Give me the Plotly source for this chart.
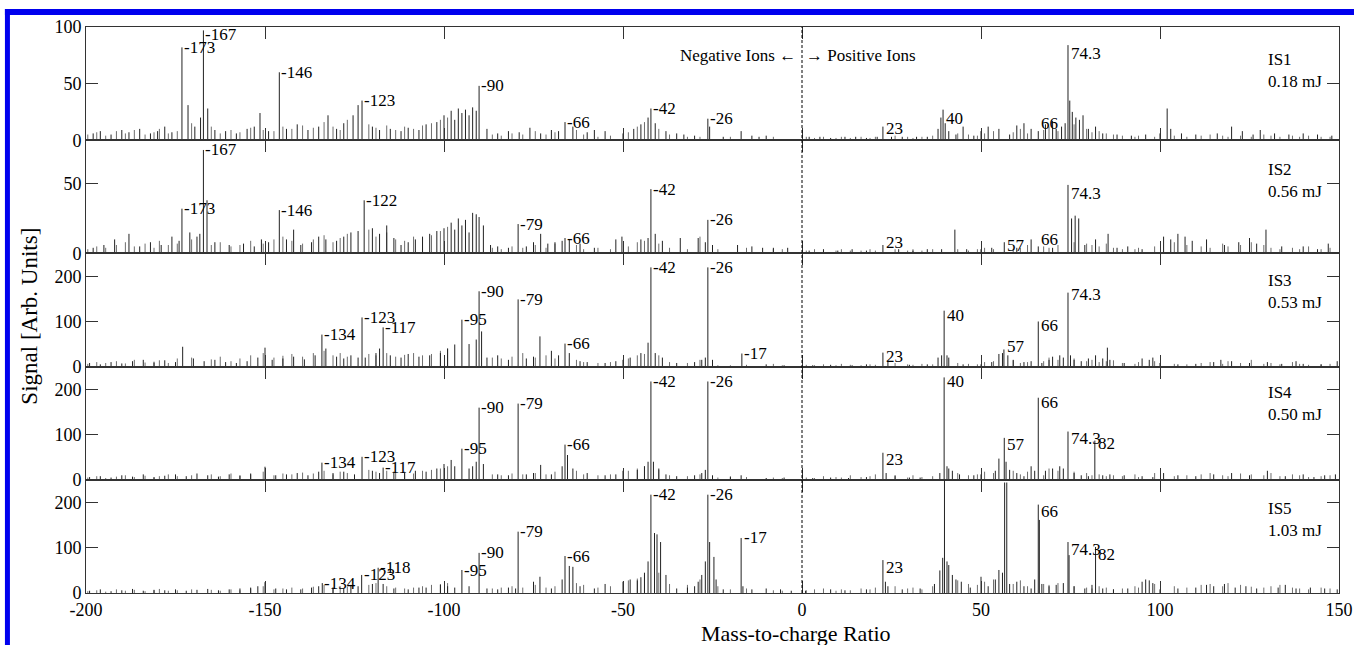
import plotly.graph_objects as go
from plotly.subplots import make_subplots

# ---------------- data (m/z, signal) ----------------
X_RANGE = [-200, 150]
X_TICKS = [-200, -150, -100, -50, 0, 50, 100, 150]
X_TICK_TEXT = ["-200", "-150", "-100", "-50", "0", "50", "100", "150"]

PANEL_NAMES = ["IS1", "IS2", "IS3", "IS4", "IS5"]
PANEL_ENERGY = ["0.18 mJ", "0.56 mJ", "0.53 mJ", "0.50 mJ", "1.03 mJ"]
Y_MAX = [100, 81, 251, 251, 251]
Y_TICKS = [[0, 50, 100], [0, 50], [0, 100, 200], [0, 100, 200], [0, 100, 200]]

IS1_PEAKS = [(-198, 6), (-196, 8), (-193, 5), (-190, 9), (-188, 7), (-185, 10), (-182, 6), (-180, 8),
             (-178, 12), (-176, 7), (-173.2, 82), (-171.5, 31), (-169.6, 12), (-168, 20), (-167.2, 97),
             (-166, 28), (-164, 9), (-161, 8), (-158, 6), (-155, 10), (-153, 12), (-151.4, 24), (-149, 8),
             (-146, 60), (-144, 10), (-141, 14), (-138, 9), (-135, 12), (-132.4, 22), (-130, 10), (-128, 15),
             (-125.4, 22), (-124, 31), (-122.9, 35), (-120, 12), (-118, 9), (-115, 10), (-112, 8), (-110, 11),
             (-107, 9), (-105, 14), (-102, 16), (-100, 22), (-98, 26), (-97, 18), (-96, 28), (-95, 24),
             (-94, 27), (-93, 22), (-92, 29), (-91, 26), (-90.2, 48), (-88, 10), (-85, 6), (-82, 8), (-79, 7),
             (-76, 11), (-73, 6), (-70, 9), (-68, 8), (-66.2, 16), (-64, 12), (-60, 7), (-58, 9), (-55, 8),
             (-50, 6), (-47, 10), (-45, 14), (-43, 20), (-42.2, 28), (-41, 15), (-38, 8), (-35, 6), (-33, 5),
             (-30, 4), (-26.3, 19), (-25.8, 12), (-22, 3), (-17, 8), (-14, 4), (-12, 3), (-10, 4),
             (2, 3), (5, 3), (8, 2), (12, 3), (15, 3), (18, 2), (21, 3), (22.6, 12), (25, 3), (28, 3), (32, 3),
             (35, 3), (38, 10), (38.8, 20), (39.4, 27), (40, 15), (41, 8), (43, 5), (45, 12), (48, 4), (50, 8),
             (52, 12), (55, 10), (58, 5), (60, 13), (62, 15), (64, 10), (66, 8), (68, 14), (70, 17), (71, 10),
             (72.5, 12), (73.5, 15), (74.3, 84), (74.8, 35), (75.5, 25), (76.5, 20), (77.5, 18), (78.5, 22),
             (80, 10), (82, 12), (84, 6), (88, 5), (92, 4), (96, 5), (100, 6), (102, 28), (103, 10), (106, 6),
             (110, 5), (116, 6), (120, 12), (123, 8), (126, 5), (128, 9), (132, 6), (136, 5), (140, 6),
             (144, 5), (148, 4)]

IS2_PEAKS = [(-198, 4), (-195, 6), (-192, 10), (-188, 14), (-185, 5), (-182, 8), (-179, 6), (-176, 12),
             (-174, 9), (-173.2, 32), (-171, 15), (-169, 12), (-168.2, 14), (-167.2, 74), (-166.2, 38),
             (-164, 8), (-160, 6), (-156, 7), (-153, 5), (-151, 10), (-149, 8), (-146, 31), (-144, 10),
             (-142, 17), (-140, 6), (-137, 8), (-135, 12), (-133, 10), (-130, 9), (-128, 12), (-126, 15),
             (-124, 16), (-122.3, 38), (-120, 18), (-118, 14), (-116, 20), (-114, 11), (-112, 6), (-110, 8),
             (-108, 10), (-106, 12), (-104, 14), (-102, 16), (-100, 18), (-98, 22), (-97, 17), (-96, 25),
             (-95, 20), (-94, 24), (-93, 15), (-92, 29), (-91, 28), (-90.2, 26), (-89, 20), (-87, 6), (-85, 5),
             (-82, 4), (-79.3, 21), (-77, 5), (-75, 8), (-73, 14), (-71, 7), (-69, 8), (-67, 9), (-66.2, 11),
             (-65, 10), (-62, 7), (-58, 4), (-52, 10), (-50.3, 12), (-45, 10), (-43, 11), (-42.2, 46),
             (-41, 14), (-39, 9), (-34, 11), (-29, 11), (-27, 8), (-26.3, 24), (-25, 6), (-18, 6), (-14, 5),
             (-11, 4), (-8, 4), (-4, 4),
             (2, 2), (6, 3), (10, 2), (14, 3), (18, 2), (22.6, 6), (27, 3), (31, 2), (35, 3), (39, 3),
             (42.7, 17), (46, 3), (50, 3), (53, 4), (56.5, 8), (60, 4), (64, 10), (66, 5), (70, 4), (74.3, 49),
             (75.3, 25), (76.3, 27), (77.3, 25), (79, 6), (82, 10), (85.5, 14), (88, 4), (91, 5), (95, 3),
             (101, 12), (103, 10), (105, 14), (107, 12), (109, 9), (113, 10), (118, 6), (122, 8), (125, 11),
             (127, 7), (129.6, 17), (134, 5), (140, 5), (144, 3), (147, 7)]

IS3_PEAKS = [(-199, 8), (-196, 5), (-193, 10), (-190, 7), (-187, 12), (-184, 15), (-181, 9), (-178, 14),
             (-175, 10), (-173, 44), (-170, 18), (-167, 12), (-164, 15), (-161, 10), (-158, 8), (-155, 12),
             (-152, 20), (-150, 42), (-148, 15), (-145, 18), (-142, 22), (-139, 16), (-136, 25), (-134.1, 71),
             (-133, 40), (-130, 22), (-128, 18), (-126, 25), (-124, 20), (-122.9, 109), (-122, 20),
             (-119, 30), (-118, 40), (-117, 87), (-115, 25), (-112, 20), (-110, 28), (-107, 22), (-104, 25),
             (-101, 30), (-99, 40), (-97, 49), (-95, 104), (-93, 50), (-91, 60), (-90.2, 167), (-89.5, 78),
             (-88, 20), (-85, 25), (-82, 15), (-79.3, 149), (-77, 18), (-75, 22), (-73.2, 67), (-70, 35),
             (-68, 25), (-66.2, 51), (-65, 30), (-62, 12), (-60, 10), (-55, 8), (-52, 12), (-50, 15),
             (-48, 20), (-45, 30), (-43, 53), (-42.2, 220), (-41, 30), (-39, 20), (-35, 8), (-30, 10),
             (-28, 15), (-27, 20), (-26.3, 220), (-25, 15), (-16.8, 29), (-10, 5), (-5, 3),
             (3, 3), (8, 4), (14, 3), (18, 5), (22.6, 31), (24, 12), (30, 4), (35, 5), (38, 20), (39, 25),
             (39.7, 124), (40.5, 25), (41, 20), (45, 5), (50, 5), (53, 10), (55, 28), (56, 30), (56.4, 38),
             (57.5, 25), (59, 15), (62, 10), (64, 12), (66, 100), (67, 8), (69, 15), (70, 22), (72, 25),
             (73, 20), (74.3, 164), (75, 25), (76, 15), (78, 12), (80, 18), (82, 25), (84, 18), (85.3, 42),
             (86, 15), (90, 8), (95, 18), (97, 15), (98, 20), (100, 8), (105, 5), (110, 6), (115, 10),
             (117, 15), (120, 12), (125, 8), (130, 10), (134, 6), (138, 12), (140, 6), (145, 5), (149.5, 12)]

IS4_PEAKS = [(-199, 6), (-196, 8), (-193, 5), (-190, 10), (-187, 7), (-184, 12), (-181, 6), (-178, 9),
             (-175, 12), (-172, 8), (-169, 14), (-166, 10), (-163, 7), (-160, 12), (-157, 9), (-154, 14),
             (-150, 29), (-147, 10), (-144, 12), (-141, 15), (-138, 10), (-135, 18), (-134.1, 38),
             (-131, 15), (-128, 18), (-125, 12), (-122.9, 51), (-120, 20), (-118, 15), (-117, 27),
             (-114, 18), (-111, 15), (-108, 20), (-105, 18), (-102, 25), (-100, 35), (-98, 44), (-97, 30),
             (-95, 69), (-93, 25), (-92, 30), (-91, 40), (-90.2, 160), (-89, 35), (-85, 12), (-82, 10),
             (-79.3, 169), (-77, 12), (-75, 15), (-73, 33), (-70, 12), (-67, 30), (-66.2, 78), (-65.5, 55),
             (-64, 25), (-60, 15), (-55, 10), (-52, 12), (-50, 20), (-46, 22), (-44, 30), (-43, 40),
             (-42.2, 218), (-41.5, 40), (-40, 25), (-38, 12), (-35, 8), (-30, 10), (-28, 15), (-27, 22),
             (-26.3, 218), (-25, 10), (-20, 6), (-17, 10), (-10, 4), (-5, 5),
             (3, 4), (8, 5), (13, 4), (18, 6), (22.6, 60), (23.5, 15), (26, 10), (30, 5), (33, 5),
             (38.5, 15), (39.7, 227), (40.5, 30), (41, 25), (42, 20), (44, 12), (48, 10), (50, 12), (54, 20),
             (55, 47), (56.5, 93), (57, 40), (58, 22), (60, 15), (62, 8), (64, 30), (65, 20), (66, 182),
             (68, 20), (70, 25), (72, 30), (73, 25), (74.3, 107), (76, 15), (78, 10), (80, 8), (81.8, 87),
             (84, 10), (86, 12), (90, 10), (95, 8), (98, 6), (101, 15), (105, 10), (110, 8), (115, 12),
             (120, 15), (125, 10), (130, 20), (135, 8), (140, 12), (143, 6), (146, 10), (149, 12)]

IS5_PEAKS = [(-199, 5), (-196, 8), (-193, 4), (-190, 6), (-187, 9), (-184, 5), (-181, 7), (-178, 6),
             (-175, 8), (-172, 5), (-169, 7), (-166, 9), (-163, 6), (-160, 8), (-157, 10), (-154, 12),
             (-152, 15), (-150, 24), (-147, 10), (-144, 8), (-140, 8), (-137, 12), (-135, 15), (-134, 22),
             (-131, 12), (-128, 10), (-126, 18), (-124, 15), (-123, 40), (-120, 20), (-118.4, 56), (-117, 20),
             (-114, 10), (-110, 8), (-107, 12), (-105, 12), (-101, 18), (-99, 15), (-97, 12), (-95, 51),
             (-93, 15), (-90.2, 89), (-88, 10), (-85, 8), (-82, 12), (-80, 10), (-79.3, 136), (-75, 25),
             (-73.2, 36), (-70, 10), (-67, 30), (-66.2, 82), (-65, 60), (-64, 58), (-62, 15), (-58, 10),
             (-55, 20), (-50, 25), (-48, 30), (-46, 28), (-45, 35), (-44, 45), (-43, 70), (-42.2, 218),
             (-41.2, 133), (-40.5, 130), (-39.5, 113), (-38, 40), (-35, 10), (-32, 12), (-30, 15), (-29, 25),
             (-28, 40), (-27, 70), (-26.3, 218), (-25.8, 113), (-24.6, 80), (-24, 30), (-22, 8), (-17, 122),
             (-16.5, 15), (-14, 8), (-10, 10), (-6, 8), (-3, 5),
             (1, 5), (8, 8), (12, 6), (18, 8), (22.6, 73), (23.3, 25), (24, 15), (28, 8), (33, 10), (37, 20),
             (38.5, 50), (39.3, 78), (39.8, 250), (40.5, 70), (41, 62), (42, 40), (43, 30), (44.5, 25),
             (47, 12), (50, 36), (52, 15), (54, 30), (55, 51), (56, 45), (56.6, 245), (57.2, 245), (58, 20),
             (60, 25), (62, 15), (64, 10), (65, 30), (66, 196), (66.3, 162), (67, 20), (69, 15), (71, 18),
             (73, 22), (74.3, 113), (74.6, 84), (76, 15), (79, 10), (81, 18), (82, 102), (84, 10), (87, 8),
             (91, 10), (95, 25), (96, 30), (97, 28), (98, 22), (100, 8), (105, 10), (110, 12), (113, 18),
             (115, 15), (118, 20), (121, 12), (124, 15), (127, 10), (133, 12), (135, 18), (138, 10),
             (142, 12), (146, 10), (149.5, 8)]

# small background (noise) sticks, same m/z positions in every panel
NOISE_MZ = [-199.5, -197, -194.5, -191.5, -189, -186.5, -183.5, -181, -179.5, -177, -174.5, -170.5, -165,
            -162.5, -159.5, -157, -154, -150.5, -147.5, -145, -142.5, -139.5, -136.5, -133.5, -131, -129,
            -127, -121, -119, -116, -113.5, -111, -108.5, -106, -103.5, -101, -99, -86.5, -84, -81, -78,
            -74.5, -71.5, -69, -63, -61, -57, -53.5, -48.5, -46, -44, -40, -37, -32, -28.5, -23.5, -20,
            -15.5, -8, -5.5,
            1.2, 3.5, 6, 9.5, 11, 13.5, 16.5, 19, 20.5, 26, 29.5, 31, 33.5, 36.5, 43.5, 46.5, 49, 51, 53.5,
            59, 61, 63, 67.5, 69, 71.5, 76, 79.5, 81, 83, 85, 87, 89.5, 93, 94, 98.5, 104, 107.5, 111.5, 114,
            117.5, 119, 122.5, 125.5, 129, 131, 133.5, 137, 139, 141.5, 145, 147.5]

IS1_NOISE = [5, 7, 4, 8, 6, 9, 5, 7, 10, 6, 8, 15, 12, 6, 9, 7, 11, 9, 8, 12, 10, 13, 11, 16, 12, 9, 18,
             14, 11, 13, 9, 12, 10, 13, 15, 18, 20, 5, 4, 6, 5, 8, 5, 7, 9, 5, 3, 4, 7, 12, 16, 10, 5, 3, 3,
             0, 3, 0, 3, 0,
             3, 2, 3, 2, 3, 2, 3, 2, 3, 4, 3, 2, 3, 4, 6, 5, 4, 6, 8, 7, 10, 6, 9, 12, 8, 14, 10, 7, 8, 6, 5,
             4, 3, 4, 3, 4, 3, 4, 5, 4, 3, 4, 3, 5, 4, 3, 4, 3, 4, 3, 3]
IS2_NOISE = [3, 5, 4, 6, 8, 5, 7, 4, 9, 6, 7, 10, 6, 8, 5, 6, 9, 7, 10, 12, 9, 7, 10, 13, 8, 11, 14,
             17, 12, 15, 10, 9, 12, 11, 13, 16, 19, 4, 3, 5, 4, 6, 4, 7, 6, 3, 4, 3, 5, 8, 9, 7, 4, 3, 12,
             3, 0, 4, 3, 3,
             2, 3, 2, 2, 3, 2, 2, 3, 2, 3, 2, 3, 2, 3, 3, 2, 3, 4, 3, 3, 4, 6, 5, 4, 6, 8, 7, 6, 5, 7, 4,
             3, 3, 4, 5, 8, 6, 5, 4, 7, 5, 6, 8, 6, 4, 3, 4, 3, 5, 3, 4]
IS3_NOISE = [6, 10, 8, 12, 7, 15, 9, 11, 14, 8, 18, 20, 16, 22, 12, 18, 25, 30, 20, 24, 28, 22, 30, 35,
             25, 30, 22, 28, 25, 30, 22, 26, 30, 25, 28, 35, 40, 20, 18, 22, 30, 20, 25, 18, 15, 10, 8, 10,
             18, 25, 28, 25, 10, 8, 15, 3, 3, 4, 6, 3,
             4, 3, 5, 3, 6, 4, 3, 5, 4, 8, 5, 4, 6, 5, 8, 6, 5, 10, 12, 14, 8, 10, 12, 20, 15, 18, 12, 15,
             10, 12, 14, 8, 6, 10, 12, 6, 5, 8, 10, 6, 12, 8, 15, 6, 8, 5, 10, 6, 4, 5, 6]
IS4_NOISE = [5, 8, 4, 7, 10, 6, 9, 5, 8, 12, 8, 10, 12, 8, 14, 10, 12, 18, 10, 14, 12, 16, 14, 20, 12,
             18, 15, 22, 18, 20, 15, 18, 14, 20, 22, 25, 30, 12, 10, 14, 12, 15, 12, 18, 20, 12, 10, 12,
             20, 25, 30, 22, 10, 8, 12, 5, 8, 6, 5, 4,
             5, 4, 8, 6, 5, 10, 6, 8, 12, 8, 5, 10, 6, 8, 15, 10, 12, 18, 15, 20, 12, 18, 10, 25, 20, 18,
             15, 10, 12, 8, 10, 8, 12, 6, 15, 8, 10, 12, 15, 10, 8, 14, 12, 10, 15, 8, 12, 10, 6, 8, 10]
IS5_NOISE = [4, 6, 3, 8, 5, 7, 4, 6, 9, 5, 6, 8, 7, 5, 8, 6, 10, 15, 8, 10, 12, 10, 14, 18, 12, 15, 14,
             18, 22, 15, 12, 10, 12, 15, 18, 20, 22, 10, 12, 15, 12, 18, 12, 15, 22, 18, 12, 15, 28, 32,
             40, 45, 20, 18, 30, 15, 8, 10, 6, 5,
             6, 8, 10, 5, 8, 6, 10, 8, 12, 15, 10, 12, 8, 15, 28, 20, 18, 25, 30, 20, 28, 15, 20, 18, 22,
             15, 12, 10, 15, 12, 8, 10, 15, 12, 20, 15, 12, 18, 20, 15, 22, 18, 14, 12, 15, 18, 12, 10, 8,
             12, 10]

# peak labels: (m/z, text, peak height)
IS1_LABELS = [(-173.2, "-173", 82), (-167.2, "-167", 93), (-146, "-146", 60), (-122.9, "-123", 35),
              (-90.2, "-90", 48), (-66.2, "-66", 16), (-42.2, "-42", 28), (-26.3, "-26", 19),
              (22.6, "23", 18), (39.4, "40", 27), (66, "66", 22), (74.3, "74.3", 84)]
IS2_LABELS = [(-173.2, "-173", 32), (-167.2, "-167", 74), (-146, "-146", 31), (-122.3, "-122", 38),
              (-79.3, "-79", 21), (-66.2, "-66", 11), (-42.2, "-42", 46), (-26.3, "-26", 24),
              (22.6, "23", 14), (56.5, "57", 12), (66, "66", 16), (74.3, "74.3", 49)]
IS3_LABELS = [(-134.1, "-134", 71), (-122.9, "-123", 109), (-117, "-117", 87), (-95, "-95", 104),
              (-90.2, "-90", 167), (-79.3, "-79", 149), (-66.2, "-66", 51), (-42.2, "-42", 220),
              (-26.3, "-26", 220), (-16.8, "-17", 29),
              (22.6, "23", 42), (39.7, "40", 133), (56.4, "57", 64), (66, "66", 111), (74.3, "74.3", 178)]
IS4_LABELS = [(-134.1, "-134", 38), (-122.9, "-123", 51), (-117, "-117", 27), (-95, "-95", 69),
              (-90.2, "-90", 160), (-79.3, "-79", 169), (-66.2, "-66", 78), (-42.2, "-42", 218),
              (-26.3, "-26", 218),
              (22.6, "23", 64), (39.7, "40", 236), (56.5, "57", 98), (66, "66", 190), (74.3, "74.3", 110),
              (81.8, "82", 100)]
IS5_LABELS = [(-134, "-134", 22), (-123, "-123", 40), (-118.4, "-118", 56), (-95, "-95", 51),
              (-90.2, "-90", 89), (-79.3, "-79", 136), (-66.2, "-66", 82), (-42.2, "-42", 218),
              (-26.3, "-26", 218), (-16.8, "-17", 122),
              (22.6, "23", 75), (39.8, "40", 252), (56.9, "57", 252), (66, "66", 200), (74.3, "74.3", 116),
              (81.8, "82", 104)]

ALL_PEAKS = [IS1_PEAKS, IS2_PEAKS, IS3_PEAKS, IS4_PEAKS, IS5_PEAKS]
ALL_NOISE = [IS1_NOISE, IS2_NOISE, IS3_NOISE, IS4_NOISE, IS5_NOISE]
ALL_LABELS = [IS1_LABELS, IS2_LABELS, IS3_LABELS, IS4_LABELS, IS5_LABELS]

# ---------------- figure ----------------
FONT = "Liberation Serif"
INFO_Y_FRAC = [0.62, 0.64, 0.66, 0.67, 0.65]

fig = make_subplots(rows=5, cols=1, shared_xaxes=True, vertical_spacing=0)


def stems(pairs):
    xs, ys = [], []
    for mz, h in pairs:
        xs += [mz, mz, None]
        ys += [0, h, None]
    return xs, ys


for i, peaks in enumerate(ALL_PEAKS):
    row = i + 1
    nx, ny = stems(list(zip(NOISE_MZ, ALL_NOISE[i], strict=True)))
    fig.add_trace(go.Scatter(x=nx, y=ny, mode="lines", line=dict(color="#6e6e6e", width=1),
                             showlegend=False, hoverinfo="skip"), row=row, col=1)
    xs, ys = stems(peaks)
    fig.add_trace(go.Scatter(x=xs, y=ys, mode="lines", line=dict(color="#222222", width=1),
                             showlegend=False, hoverinfo="skip"), row=row, col=1)
    sfx = "" if row == 1 else str(row)
    for mz, txt, h in ALL_LABELS[i]:
        neg = mz < 0
        fig.add_annotation(x=mz, y=h, xref="x" + sfx, yref="y" + sfx, text=txt, showarrow=False,
                           xanchor="left", yanchor="middle" if neg else "top",
                           xshift=0 if neg else 1, yshift=0 if neg else 3,
                           font=dict(family=FONT, size=17, color="black"))
    fig.add_annotation(x=129.5, y=Y_MAX[i] * INFO_Y_FRAC[i], xref="x" + sfx, yref="y" + sfx,
                       text=PANEL_NAMES[i] + "<br>" + PANEL_ENERGY[i], showarrow=False,
                       xanchor="left", yanchor="middle", align="left",
                       font=dict(family=FONT, size=17, color="black"))
    fig.update_yaxes(range=[0, Y_MAX[i]], tickvals=Y_TICKS[i], row=row, col=1)

fig.update_xaxes(range=X_RANGE, tickvals=X_TICKS, ticktext=X_TICK_TEXT, ticks="inside", ticklen=12,
                 tickwidth=1, tickcolor="#333", showline=True, linecolor="#333", linewidth=1,
                 mirror="ticks", showgrid=False, zeroline=False, automargin=False,
                 tickfont=dict(family=FONT, size=18, color="black"))
fig.update_yaxes(ticks="inside", ticklen=12, tickwidth=1, tickcolor="#333", showline=True,
                 linecolor="#333", linewidth=1, mirror="ticks", showgrid=False, zeroline=False,
                 automargin=False, tickfont=dict(family=FONT, size=18, color="black"))

# dashed divider between negative and positive ions
fig.add_shape(type="line", xref="x", yref="paper", x0=0, x1=0, y0=0, y1=1,
              line=dict(color="black", width=1, dash="3px,2px"))

fig.add_annotation(x=-1, y=75, xref="x", yref="y", text="Negative Ions ←", showarrow=False,
                   xanchor="right", yanchor="middle", font=dict(family=FONT, size=17, color="black"))
fig.add_annotation(x=0.5, y=75, xref="x", yref="y", text="→ Positive Ions", showarrow=False,
                   xanchor="left", yanchor="middle", font=dict(family=FONT, size=17, color="black"))

# axis titles
fig.add_annotation(x=-0.0447, y=0.49, xref="paper", yref="paper", text="Signal [Arb. Units]",
                   textangle=-90, showarrow=False, xanchor="center", yanchor="middle",
                   font=dict(family=FONT, size=23, color="black"))
fig.add_annotation(x=0.567, y=-0.071, xref="paper", yref="paper", text="Mass-to-charge Ratio",
                   showarrow=False, xanchor="center", yanchor="middle",
                   font=dict(family=FONT, size=22, color="black"))

# blue frame around the figure
fig.add_shape(type="line", xref="paper", yref="paper", x0=-0.0647, x1=1.012, y0=1.0265, y1=1.0265,
              line=dict(color="#0000ee", width=6))
fig.add_shape(type="line", xref="paper", yref="paper", x0=-0.0627, x1=-0.0627, y0=1.032, y1=-0.095,
              line=dict(color="#0000ee", width=5))

fig.update_layout(width=1354, height=645, margin=dict(l=86, r=15, t=27, b=52),
                  paper_bgcolor="white", plot_bgcolor="white", showlegend=False)

fig.write_html("out.html", config={"displayModeBar": False},
               post_script="document.body.style.margin='0';")
